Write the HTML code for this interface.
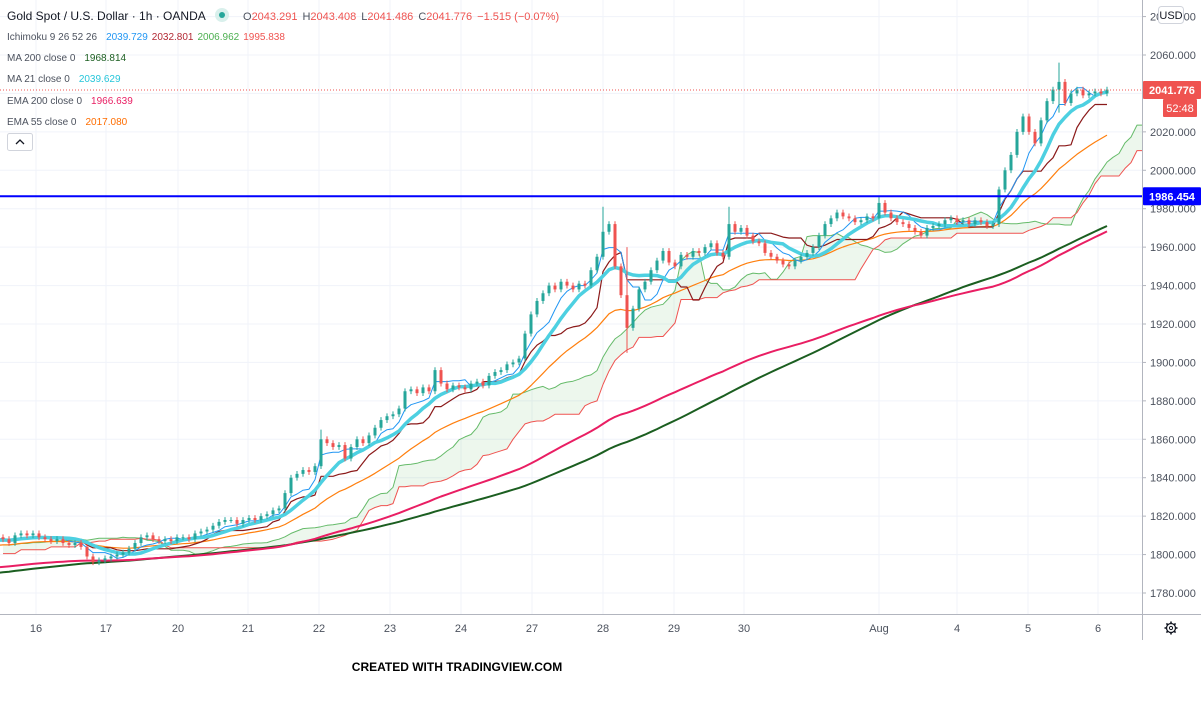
<!DOCTYPE html>
<html><head><meta charset="utf-8">
<style>
body{margin:0;background:#fff;font-family:"Liberation Sans",sans-serif;}
#wrap{position:relative;width:1201px;height:706px;overflow:hidden;}
svg{position:absolute;left:0;top:0;}
</style></head>
<body>
<div id="wrap">
<svg id="chart" width="1201" height="706"></svg>
</div>
<script>
// ---- data ----
const dayLabels = ["16","17","20","21","22","23","24","27","28","29","30","Aug","4","5","6"];
const dayPos = [36,106,178,248,319,390,461,532,603,674,744,879,957,1028,1098];
const priceTicks = [1780,1800,1820,1840,1860,1880,1900,1920,1940,1960,1980,2000,2020,2040,2060,2080];
const history = [1772,1775,1774,1778,1781,1780,1783,1786,1785,1789,1792,1791,1795,1798,1800,1803,1805,1806,1807,1808];
const closes = [1808,1806,1810,1811,1810,1811,1809,1808,1807,1808,1806,1805,1806,1804,1799,1796,1797,1798,1799,1800,1801,1803,1806,1809,1810,1808,1807,1808,1807,1809,1809,1808,1811,1812,1813,1815,1817,1818,1818,1816,1818,1819,1818,1820,1821,1823,1824,1832,1840,1842,1844,1843,1846,1860,1858,1856,1857,1850,1856,1860,1858,1862,1866,1870,1872,1873,1876,1885,1886,1884,1887,1885,1896,1889,1886,1888,1887,1886,1889,1890,1888,1893,1895,1896,1899,1900,1902,1915,1925,1932,1936,1940,1938,1942,1940,1938,1941,1940,1948,1955,1968,1972,1950,1935,1918,1928,1938,1942,1948,1953,1958,1952,1950,1956,1955,1958,1957,1960,1962,1957,1955,1972,1968,1970,1966,1963,1962,1957,1955,1953,1951,1950,1953,1955,1957,1960,1966,1972,1975,1978,1976,1975,1973,1974,1976,1975,1983,1978,1975,1973,1972,1970,1968,1966,1970,1971,1972,1974,1975,1973,1974,1972,1974,1973,1971,1972,1990,2000,2008,2020,2028,2020,2014,2026,2036,2042,2046,2035,2040,2042,2039,2040,2041,2040,2042];
const spikeIdx = [53,100,104,121,146,176];
const spikeHigh = [1865,1981,1960,1981,1986,2056];
const spikeLow = [1850,1955,1905,1958,1972,2030];
const lastPrice = 2041.776;
const hLine = 1986.454;

// ---- scales ----
const X0 = 3, STEP = 6, PLOT_R = 1142, PLOT_B = 614;
const xOf = i => X0 + i*STEP;
const yOf = p => 55 + (2060-p)*1.9214;
const NS = "http://www.w3.org/2000/svg";
const svg = document.getElementById('chart');
function mk(tag, attrs, parent){const e=document.createElementNS(NS,tag);for(const k in attrs)e.setAttribute(k,attrs[k]);(parent||svg).appendChild(e);return e;}

const clip = mk('clipPath',{id:'plotclip'});
mk('rect',{x:0,y:0,width:PLOT_R,height:PLOT_B},clip);

const grid = mk('g',{});


priceTicks.forEach(p=>{const y=yOf(p); if(y>0&&y<PLOT_B) mk('line',{x1:0,x2:PLOT_R,y1:y,y2:y,stroke:'#f0f3fa','stroke-width':1},grid);});
dayPos.forEach(x=>mk('line',{x1:x,x2:x,y1:0,y2:PLOT_B,stroke:'#f0f3fa','stroke-width':1},grid));

const full = [];
history.forEach(v=>{for(let k=0;k<5;k++) full.push(v);});
const H = full.length;
closes.forEach(v=>full.push(v));
const opens = closes.map((c,i)=> i===0?1809:closes[i-1]);
const highs = closes.map((c,i)=>Math.max(c,opens[i])+1.5);
const lows = closes.map((c,i)=>Math.min(c,opens[i])-1.5);
spikeIdx.forEach((k,j)=>{highs[k]=Math.max(highs[k],spikeHigh[j]);lows[k]=Math.min(lows[k],spikeLow[j]);});
const fullH = full.map((v,i)=> i<H? v+1.5 : highs[i-H]);
const fullL = full.map((v,i)=> i<H? v-1.5 : lows[i-H]);

function sma(n){return full.map((v,i)=>{if(i<n-1)return null;let s=0;for(let k=i-n+1;k<=i;k++)s+=full[k];return s/n;});}
function ema(n){const a=2/(n+1);let e=full[0];return full.map(v=>(e=a*v+(1-a)*e));}
function mid(n){return full.map((v,i)=>{if(i<n-1)return null;let h=-1e9,l=1e9;for(let k=i-n+1;k<=i;k++){h=Math.max(h,fullH[k]);l=Math.min(l,fullL[k]);}return (h+l)/2;});}

const plot = mk('g',{'clip-path':'url(#plotclip)'});
function pathFrom(arr, shift){let d='';arr.forEach((v,i)=>{if(v==null)return;const x=xOf(i-H+shift);d+=(d?'L':'M')+x.toFixed(1)+','+yOf(v).toFixed(1);});return d;}

const tenkan = mid(5), kijun = mid(13);
const spanA = tenkan.map((t,i)=> (t==null||kijun[i]==null)?null:(t+kijun[i])/2);
const spanB = mid(26);
const D = 13;
let cloud='';const pts=[];
spanA.forEach((a,i)=>{if(a!=null&&spanB[i]!=null&&i>=H-D) pts.push(i);});
if(pts.length){
 cloud = 'M'+pts.map(i=>xOf(i-H+D).toFixed(1)+','+yOf(spanA[i]).toFixed(1)).join('L')+'L'+pts.slice().reverse().map(i=>xOf(i-H+D).toFixed(1)+','+yOf(spanB[i]).toFixed(1)).join('L')+'Z';
}
const cl = mk('path',{d:cloud,fill:'rgba(76,175,80,0.1)',stroke:'none'},plot);


function line(arr,shift,color,w,name){const p=mk('path',{d:pathFrom(arr,shift),fill:'none',stroke:color,'stroke-width':w,'stroke-linejoin':'round'},plot);return p;}
line(spanA.map((v,i)=>i>=H-D?v:null),D,'#66bb6a',1,'ichimoku-span-a');
line(spanB.map((v,i)=>i>=H-D?v:null),D,'#ef5350',1,'ichimoku-span-b');
line(sma(100),0,'#1b5e20',2,'ma-200-line');
line(ema(100),0,'#e91e63',2,'ema-200-line');
line(ema(27),0,'#ff7f0e',1.2,'ema-55-line');
line(kijun,0,'#8b1a1a',1.2,'ichimoku-base-line');
line(tenkan,0,'#2196f3',1,'ichimoku-conversion-line');
line(sma(10),0,'#4dd0e1',3.5,'ma-21-line');

closes.forEach((c,i)=>{
 const o=opens[i],up=c>=o,col=up?'#26a69a':'#ef5350',x=xOf(i);
 const g=mk('g',{},plot);
 
 
 mk('line',{x1:x,x2:x,y1:yOf(highs[i]),y2:yOf(lows[i]),stroke:col,'stroke-width':1},g);
 const yt=yOf(Math.max(o,c)),yb=yOf(Math.min(o,c));
 mk('rect',{x:x-1.5,y:yt,width:3,height:Math.max(1,yb-yt),fill:col},g);
});

const hl = mk('line',{x1:0,x2:PLOT_R,y1:yOf(hLine),y2:yOf(hLine),stroke:'#0000ff','stroke-width':2});


const lp = mk('line',{x1:0,x2:PLOT_R,y1:yOf(lastPrice),y2:yOf(lastPrice),stroke:'#ef5350','stroke-width':1,'stroke-dasharray':'1,2'});



mk('line',{x1:PLOT_R+0.5,x2:PLOT_R+0.5,y1:0,y2:640,stroke:'#b2b5be','stroke-width':1});
mk('line',{x1:0,x2:1201,y1:PLOT_B+0.5,y2:PLOT_B+0.5,stroke:'#b2b5be','stroke-width':1});
priceTicks.forEach(p=>{const y=yOf(p); if(y<5||y>PLOT_B)return;
 mk('line',{x1:PLOT_R,x2:PLOT_R+4,y1:y,y2:y,stroke:'#b2b5be'});
 const t=mk('text',{x:1150,y:y+4,'font-size':11,fill:'#4c525e'});t.textContent=p.toFixed(3);
 
 
});
dayLabels.forEach((l,i)=>{const t=mk('text',{x:dayPos[i],y:632,'font-size':11,fill:'#4c525e','text-anchor':'middle'});t.textContent=l;
 
 
});
function tag(y,w,x,bg,txt,name,bold){const g=mk('g',{});
 mk('rect',{x:x,y:y-9,width:w,height:18,fill:bg,rx:1},g);
 const t=mk('text',{x:x+w/2,y:y+4,'font-size':11,'font-weight':bold?'bold':'normal',fill:'#fff','text-anchor':'middle'},g);t.textContent=txt;}
tag(yOf(hLine),58,1143,'#0000ff',hLine.toFixed(3),'level-price-label',true);
tag(yOf(lastPrice),58,1143,'#ef5350',lastPrice.toFixed(3),'last-price-label',true);
tag(yOf(lastPrice)+18,34,1163,'#ef5350','52:48','countdown-label',false);
const ug=mk('g',{});
mk('rect',{x:1158.5,y:6.5,width:25,height:17,rx:3,fill:'#fff',stroke:'#d1d4dc'},ug);
const ut=mk('text',{x:1171,y:19,'font-size':11,fill:'#131722','text-anchor':'middle'},ug);ut.textContent='USD';
const gg=mk('g',{});
mk('circle',{cx:1171,cy:628,r:4.5,fill:'none',stroke:'#131722','stroke-width':1.3},gg);
for(let k=0;k<8;k++){const a=k*Math.PI/4;mk('line',{x1:1171+Math.cos(a)*4.5,y1:628+Math.sin(a)*4.5,x2:1171+Math.cos(a)*6.5,y2:628+Math.sin(a)*6.5,stroke:'#131722','stroke-width':1.6},gg);}
mk('circle',{cx:1171,cy:628,r:1.6,fill:'none',stroke:'#131722'},gg);

function txt(x,y,parts,size,name){const t=mk('text',{x:x,y:y,'font-size':size});
 parts.forEach(p=>{const s=mk('tspan',{fill:p[1]},t);if(p[2])s.setAttribute('dx',p[2]);s.textContent=p[0];});}
txt(7,20,[['Gold Spot / U.S. Dollar · 1h · OANDA','#131722']],12,'chart-title');
const dot=mk('g',{});
mk('circle',{cx:222,cy:15,r:7,fill:'#d9f0ec'},dot);mk('circle',{cx:222,cy:15,r:3,fill:'#26a69a'},dot);
txt(243,20,[['O','#4c525e'],['2043.291','#ef5350'],['H','#4c525e','5'],['2043.408','#ef5350'],['L','#4c525e','5'],['2041.486','#ef5350'],['C','#4c525e','5'],['2041.776','#ef5350'],['−1.515 (−0.07%)','#ef5350','5']],11,'ohlc-values');
txt(7,40,[['Ichimoku 9 26 52 26','#4c525e'],['2039.729','#2196f3','9'],['2032.801','#b22833','4'],['2006.962','#4caf50','4'],['1995.838','#ef5350','4']],10,'ichimoku-legend');
txt(7,61,[['MA 200 close 0','#4c525e'],['1968.814','#1b5e20','9']],10,'ma200-legend');
txt(7,82,[['MA 21 close 0','#4c525e'],['2039.629','#26c6da','9']],10,'ma21-legend');
txt(7,104,[['EMA 200 close 0','#4c525e'],['1966.639','#e91e63','9']],10,'ema200-legend');
txt(7,125,[['EMA 55 close 0','#4c525e'],['2017.080','#ff6d00','9']],10,'ema55-legend');
const cb=mk('g',{});
mk('rect',{x:7.5,y:133.5,width:25,height:17,rx:2,fill:'#fff',stroke:'#d1d4dc'},cb);
mk('path',{d:'M16,144 L20,140 L24,144',fill:'none',stroke:'#131722','stroke-width':1.3},cb);
const ft=mk('text',{x:457,y:671,'font-size':12,'font-weight':'bold',fill:'#000','text-anchor':'middle'});
ft.textContent='CREATED WITH TRADINGVIEW.COM';


</script>
</body></html>
